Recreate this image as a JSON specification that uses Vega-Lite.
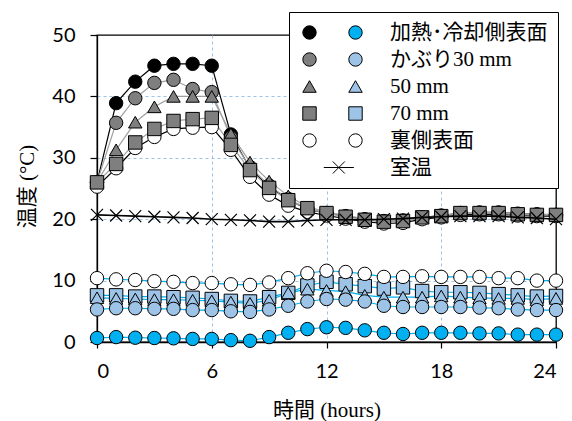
{
  "$schema": "https://vega.github.io/schema/vega-lite/v6.json",
  "autosize": {"type": "none"},
  "width": 459,
  "height": 307,
  "padding": {"left": 97, "top": 35, "right": 16, "bottom": 79},
  "background": "white",
  "config": {
    "view": {"stroke": "black", "strokeWidth": 1.3},
    "axis": {
      "domainColor": "black",
      "domainWidth": 1.3,
      "tickColor": "black",
      "tickWidth": 1.2,
      "labelFont": "Lato",
      "labelFontSize": 20,
      "labelColor": "black",
      "titleFont": "Liberation Serif, Noto Sans CJK JP",
      "titleFontSize": 21,
      "titleFontWeight": "normal",
      "titleColor": "black",
      "gridColor": "#9DC3E6",
      "gridDash": [3, 3],
      "gridWidth": 1
    }
  },
  "data": {
    "values": [
      {"h":0,"s":"heat","n":"加熱･冷却側表面","t":26.0},{"h":1,"s":"heat","n":"加熱･冷却側表面","t":38.9},{"h":2,"s":"heat","n":"加熱･冷却側表面","t":42.4},{"h":3,"s":"heat","n":"加熱･冷却側表面","t":45.0},{"h":4,"s":"heat","n":"加熱･冷却側表面","t":45.3},{"h":5,"s":"heat","n":"加熱･冷却側表面","t":45.3},{"h":6,"s":"heat","n":"加熱･冷却側表面","t":45.0},{"h":7,"s":"heat","n":"加熱･冷却側表面","t":33.8},{"h":8,"s":"heat","n":"加熱･冷却側表面","t":28.3},{"h":9,"s":"heat","n":"加熱･冷却側表面","t":25.3},{"h":10,"s":"heat","n":"加熱･冷却側表面","t":23.2},{"h":11,"s":"heat","n":"加熱･冷却側表面","t":21.6},{"h":12,"s":"heat","n":"加熱･冷却側表面","t":21.0},{"h":13,"s":"heat","n":"加熱･冷却側表面","t":20.5},{"h":14,"s":"heat","n":"加熱･冷却側表面","t":20.0},{"h":15,"s":"heat","n":"加熱･冷却側表面","t":19.7},{"h":16,"s":"heat","n":"加熱･冷却側表面","t":19.8},{"h":17,"s":"heat","n":"加熱･冷却側表面","t":20.3},{"h":18,"s":"heat","n":"加熱･冷却側表面","t":20.6},{"h":19,"s":"heat","n":"加熱･冷却側表面","t":21.0},{"h":20,"s":"heat","n":"加熱･冷却側表面","t":21.1},{"h":21,"s":"heat","n":"加熱･冷却側表面","t":21.1},{"h":22,"s":"heat","n":"加熱･冷却側表面","t":20.9},{"h":23,"s":"heat","n":"加熱･冷却側表面","t":20.8},{"h":24,"s":"heat","n":"加熱･冷却側表面","t":20.7},
      {"h":0,"s":"heat","n":"かぶり30 mm","t":26.0},{"h":1,"s":"heat","n":"かぶり30 mm","t":35.7},{"h":2,"s":"heat","n":"かぶり30 mm","t":39.7},{"h":3,"s":"heat","n":"かぶり30 mm","t":42.2},{"h":4,"s":"heat","n":"かぶり30 mm","t":42.7},{"h":5,"s":"heat","n":"かぶり30 mm","t":41.2},{"h":6,"s":"heat","n":"かぶり30 mm","t":40.7},{"h":7,"s":"heat","n":"かぶり30 mm","t":33.3},{"h":8,"s":"heat","n":"かぶり30 mm","t":28.5},{"h":9,"s":"heat","n":"かぶり30 mm","t":25.5},{"h":10,"s":"heat","n":"かぶり30 mm","t":23.3},{"h":11,"s":"heat","n":"かぶり30 mm","t":21.7},{"h":12,"s":"heat","n":"かぶり30 mm","t":21.0},{"h":13,"s":"heat","n":"かぶり30 mm","t":20.4},{"h":14,"s":"heat","n":"かぶり30 mm","t":19.9},{"h":15,"s":"heat","n":"かぶり30 mm","t":19.6},{"h":16,"s":"heat","n":"かぶり30 mm","t":19.7},{"h":17,"s":"heat","n":"かぶり30 mm","t":20.3},{"h":18,"s":"heat","n":"かぶり30 mm","t":20.5},{"h":19,"s":"heat","n":"かぶり30 mm","t":21.0},{"h":20,"s":"heat","n":"かぶり30 mm","t":21.0},{"h":21,"s":"heat","n":"かぶり30 mm","t":21.0},{"h":22,"s":"heat","n":"かぶり30 mm","t":20.8},{"h":23,"s":"heat","n":"かぶり30 mm","t":20.7},{"h":24,"s":"heat","n":"かぶり30 mm","t":20.7},
      {"h":0,"s":"heat","n":"裏側表面","t":25.3},{"h":1,"s":"heat","n":"裏側表面","t":28.3},{"h":2,"s":"heat","n":"裏側表面","t":31.6},{"h":3,"s":"heat","n":"裏側表面","t":33.4},{"h":4,"s":"heat","n":"裏側表面","t":34.7},{"h":5,"s":"heat","n":"裏側表面","t":34.9},{"h":6,"s":"heat","n":"裏側表面","t":35.0},{"h":7,"s":"heat","n":"裏側表面","t":31.3},{"h":8,"s":"heat","n":"裏側表面","t":26.9},{"h":9,"s":"heat","n":"裏側表面","t":24.0},{"h":10,"s":"heat","n":"裏側表面","t":22.2},{"h":11,"s":"heat","n":"裏側表面","t":21.2},{"h":12,"s":"heat","n":"裏側表面","t":20.6},{"h":13,"s":"heat","n":"裏側表面","t":20.1},{"h":14,"s":"heat","n":"裏側表面","t":19.6},{"h":15,"s":"heat","n":"裏側表面","t":19.3},{"h":16,"s":"heat","n":"裏側表面","t":19.4},{"h":17,"s":"heat","n":"裏側表面","t":20.0},{"h":18,"s":"heat","n":"裏側表面","t":20.3},{"h":19,"s":"heat","n":"裏側表面","t":20.7},{"h":20,"s":"heat","n":"裏側表面","t":20.8},{"h":21,"s":"heat","n":"裏側表面","t":20.8},{"h":22,"s":"heat","n":"裏側表面","t":20.6},{"h":23,"s":"heat","n":"裏側表面","t":20.5},{"h":24,"s":"heat","n":"裏側表面","t":20.5},
      {"h":0,"s":"heat","n":"50 mm","t":26.0},{"h":1,"s":"heat","n":"50 mm","t":31.3},{"h":2,"s":"heat","n":"50 mm","t":35.8},{"h":3,"s":"heat","n":"50 mm","t":38.3},{"h":4,"s":"heat","n":"50 mm","t":40.0},{"h":5,"s":"heat","n":"50 mm","t":40.0},{"h":6,"s":"heat","n":"50 mm","t":40.0},{"h":7,"s":"heat","n":"50 mm","t":33.9},{"h":8,"s":"heat","n":"50 mm","t":29.3},{"h":9,"s":"heat","n":"50 mm","t":26.2},{"h":10,"s":"heat","n":"50 mm","t":23.8},{"h":11,"s":"heat","n":"50 mm","t":22.0},{"h":12,"s":"heat","n":"50 mm","t":21.2},{"h":13,"s":"heat","n":"50 mm","t":20.6},{"h":14,"s":"heat","n":"50 mm","t":20.1},{"h":15,"s":"heat","n":"50 mm","t":19.8},{"h":16,"s":"heat","n":"50 mm","t":19.8},{"h":17,"s":"heat","n":"50 mm","t":20.3},{"h":18,"s":"heat","n":"50 mm","t":20.6},{"h":19,"s":"heat","n":"50 mm","t":21.0},{"h":20,"s":"heat","n":"50 mm","t":21.1},{"h":21,"s":"heat","n":"50 mm","t":21.1},{"h":22,"s":"heat","n":"50 mm","t":20.9},{"h":23,"s":"heat","n":"50 mm","t":20.8},{"h":24,"s":"heat","n":"50 mm","t":20.8},
      {"h":0,"s":"heat","n":"70 mm","t":26.0},{"h":1,"s":"heat","n":"70 mm","t":29.0},{"h":2,"s":"heat","n":"70 mm","t":32.5},{"h":3,"s":"heat","n":"70 mm","t":34.7},{"h":4,"s":"heat","n":"70 mm","t":36.0},{"h":5,"s":"heat","n":"70 mm","t":36.3},{"h":6,"s":"heat","n":"70 mm","t":36.5},{"h":7,"s":"heat","n":"70 mm","t":32.1},{"h":8,"s":"heat","n":"70 mm","t":28.0},{"h":9,"s":"heat","n":"70 mm","t":25.1},{"h":10,"s":"heat","n":"70 mm","t":23.1},{"h":11,"s":"heat","n":"70 mm","t":21.8},{"h":12,"s":"heat","n":"70 mm","t":21.0},{"h":13,"s":"heat","n":"70 mm","t":20.4},{"h":14,"s":"heat","n":"70 mm","t":19.9},{"h":15,"s":"heat","n":"70 mm","t":19.6},{"h":16,"s":"heat","n":"70 mm","t":19.7},{"h":17,"s":"heat","n":"70 mm","t":20.3},{"h":18,"s":"heat","n":"70 mm","t":20.5},{"h":19,"s":"heat","n":"70 mm","t":21.0},{"h":20,"s":"heat","n":"70 mm","t":21.0},{"h":21,"s":"heat","n":"70 mm","t":21.0},{"h":22,"s":"heat","n":"70 mm","t":20.8},{"h":23,"s":"heat","n":"70 mm","t":20.7},{"h":24,"s":"heat","n":"70 mm","t":20.7},
      {"h":0,"s":"room","n":"室温","t":20.7},{"h":1,"s":"room","n":"室温","t":20.6},{"h":2,"s":"room","n":"室温","t":20.5},{"h":3,"s":"room","n":"室温","t":20.4},{"h":4,"s":"room","n":"室温","t":20.3},{"h":5,"s":"room","n":"室温","t":20.2},{"h":6,"s":"room","n":"室温","t":20.0},{"h":7,"s":"room","n":"室温","t":19.9},{"h":8,"s":"room","n":"室温","t":19.8},{"h":9,"s":"room","n":"室温","t":19.6},{"h":10,"s":"room","n":"室温","t":19.6},{"h":11,"s":"room","n":"室温","t":19.8},{"h":12,"s":"room","n":"室温","t":19.9},{"h":13,"s":"room","n":"室温","t":19.9},{"h":14,"s":"room","n":"室温","t":19.9},{"h":15,"s":"room","n":"室温","t":20.0},{"h":16,"s":"room","n":"室温","t":20.1},{"h":17,"s":"room","n":"室温","t":20.3},{"h":18,"s":"room","n":"室温","t":20.4},{"h":19,"s":"room","n":"室温","t":20.5},{"h":20,"s":"room","n":"室温","t":20.5},{"h":21,"s":"room","n":"室温","t":20.5},{"h":22,"s":"room","n":"室温","t":20.3},{"h":23,"s":"room","n":"室温","t":20.2},{"h":24,"s":"room","n":"室温","t":20.0},
      {"h":0,"s":"cool","n":"70 mm","t":7.6},{"h":1,"s":"cool","n":"70 mm","t":7.6},{"h":2,"s":"cool","n":"70 mm","t":7.4},{"h":3,"s":"cool","n":"70 mm","t":7.4},{"h":4,"s":"cool","n":"70 mm","t":7.3},{"h":5,"s":"cool","n":"70 mm","t":7.2},{"h":6,"s":"cool","n":"70 mm","t":7.0},{"h":7,"s":"cool","n":"70 mm","t":6.7},{"h":8,"s":"cool","n":"70 mm","t":6.6},{"h":9,"s":"cool","n":"70 mm","t":7.3},{"h":10,"s":"cool","n":"70 mm","t":8.0},{"h":11,"s":"cool","n":"70 mm","t":9.2},{"h":12,"s":"cool","n":"70 mm","t":9.8},{"h":13,"s":"cool","n":"70 mm","t":9.4},{"h":14,"s":"cool","n":"70 mm","t":9.1},{"h":15,"s":"cool","n":"70 mm","t":8.7},{"h":16,"s":"cool","n":"70 mm","t":8.9},{"h":17,"s":"cool","n":"70 mm","t":8.3},{"h":18,"s":"cool","n":"70 mm","t":8.1},{"h":19,"s":"cool","n":"70 mm","t":8.1},{"h":20,"s":"cool","n":"70 mm","t":8.0},{"h":21,"s":"cool","n":"70 mm","t":7.8},{"h":22,"s":"cool","n":"70 mm","t":7.6},{"h":23,"s":"cool","n":"70 mm","t":7.4},{"h":24,"s":"cool","n":"70 mm","t":7.5},
      {"h":0,"s":"cool","n":"50 mm","t":7.2},{"h":1,"s":"cool","n":"50 mm","t":7.1},{"h":2,"s":"cool","n":"50 mm","t":7.0},{"h":3,"s":"cool","n":"50 mm","t":6.9},{"h":4,"s":"cool","n":"50 mm","t":6.9},{"h":5,"s":"cool","n":"50 mm","t":6.8},{"h":6,"s":"cool","n":"50 mm","t":6.7},{"h":7,"s":"cool","n":"50 mm","t":6.5},{"h":8,"s":"cool","n":"50 mm","t":6.3},{"h":9,"s":"cool","n":"50 mm","t":6.8},{"h":10,"s":"cool","n":"50 mm","t":8.0},{"h":11,"s":"cool","n":"50 mm","t":8.6},{"h":12,"s":"cool","n":"50 mm","t":8.4},{"h":13,"s":"cool","n":"50 mm","t":8.2},{"h":14,"s":"cool","n":"50 mm","t":7.6},{"h":15,"s":"cool","n":"50 mm","t":7.3},{"h":16,"s":"cool","n":"50 mm","t":7.3},{"h":17,"s":"cool","n":"50 mm","t":7.3},{"h":18,"s":"cool","n":"50 mm","t":7.5},{"h":19,"s":"cool","n":"50 mm","t":7.3},{"h":20,"s":"cool","n":"50 mm","t":7.2},{"h":21,"s":"cool","n":"50 mm","t":7.1},{"h":22,"s":"cool","n":"50 mm","t":7.1},{"h":23,"s":"cool","n":"50 mm","t":6.9},{"h":24,"s":"cool","n":"50 mm","t":7.1},
      {"h":0,"s":"cool","n":"かぶり30 mm","t":5.3},{"h":1,"s":"cool","n":"かぶり30 mm","t":5.5},{"h":2,"s":"cool","n":"かぶり30 mm","t":5.5},{"h":3,"s":"cool","n":"かぶり30 mm","t":5.4},{"h":4,"s":"cool","n":"かぶり30 mm","t":5.4},{"h":5,"s":"cool","n":"かぶり30 mm","t":5.2},{"h":6,"s":"cool","n":"かぶり30 mm","t":5.2},{"h":7,"s":"cool","n":"かぶり30 mm","t":5.0},{"h":8,"s":"cool","n":"かぶり30 mm","t":4.9},{"h":9,"s":"cool","n":"かぶり30 mm","t":5.3},{"h":10,"s":"cool","n":"かぶり30 mm","t":5.9},{"h":11,"s":"cool","n":"かぶり30 mm","t":6.6},{"h":12,"s":"cool","n":"かぶり30 mm","t":7.0},{"h":13,"s":"cool","n":"かぶり30 mm","t":6.9},{"h":14,"s":"cool","n":"かぶり30 mm","t":6.6},{"h":15,"s":"cool","n":"かぶり30 mm","t":5.9},{"h":16,"s":"cool","n":"かぶり30 mm","t":5.7},{"h":17,"s":"cool","n":"かぶり30 mm","t":5.7},{"h":18,"s":"cool","n":"かぶり30 mm","t":5.7},{"h":19,"s":"cool","n":"かぶり30 mm","t":5.7},{"h":20,"s":"cool","n":"かぶり30 mm","t":5.6},{"h":21,"s":"cool","n":"かぶり30 mm","t":5.5},{"h":22,"s":"cool","n":"かぶり30 mm","t":5.3},{"h":23,"s":"cool","n":"かぶり30 mm","t":5.2},{"h":24,"s":"cool","n":"かぶり30 mm","t":5.2},
      {"h":0,"s":"cool","n":"裏側表面","t":10.4},{"h":1,"s":"cool","n":"裏側表面","t":10.2},{"h":2,"s":"cool","n":"裏側表面","t":10.1},{"h":3,"s":"cool","n":"裏側表面","t":9.9},{"h":4,"s":"cool","n":"裏側表面","t":9.8},{"h":5,"s":"cool","n":"裏側表面","t":9.6},{"h":6,"s":"cool","n":"裏側表面","t":9.6},{"h":7,"s":"cool","n":"裏側表面","t":9.4},{"h":8,"s":"cool","n":"裏側表面","t":9.3},{"h":9,"s":"cool","n":"裏側表面","t":9.7},{"h":10,"s":"cool","n":"裏側表面","t":10.4},{"h":11,"s":"cool","n":"裏側表面","t":11.2},{"h":12,"s":"cool","n":"裏側表面","t":11.6},{"h":13,"s":"cool","n":"裏側表面","t":11.4},{"h":14,"s":"cool","n":"裏側表面","t":11.1},{"h":15,"s":"cool","n":"裏側表面","t":10.6},{"h":16,"s":"cool","n":"裏側表面","t":10.6},{"h":17,"s":"cool","n":"裏側表面","t":10.7},{"h":18,"s":"cool","n":"裏側表面","t":10.6},{"h":19,"s":"cool","n":"裏側表面","t":10.6},{"h":20,"s":"cool","n":"裏側表面","t":10.6},{"h":21,"s":"cool","n":"裏側表面","t":10.4},{"h":22,"s":"cool","n":"裏側表面","t":10.4},{"h":23,"s":"cool","n":"裏側表面","t":10.0},{"h":24,"s":"cool","n":"裏側表面","t":10.0},
      {"h":0,"s":"cool","n":"加熱･冷却側表面","t":0.65},{"h":1,"s":"cool","n":"加熱･冷却側表面","t":0.8},{"h":2,"s":"cool","n":"加熱･冷却側表面","t":0.7},{"h":3,"s":"cool","n":"加熱･冷却側表面","t":0.65},{"h":4,"s":"cool","n":"加熱･冷却側表面","t":0.6},{"h":5,"s":"cool","n":"加熱･冷却側表面","t":0.5},{"h":6,"s":"cool","n":"加熱･冷却側表面","t":0.5},{"h":7,"s":"cool","n":"加熱･冷却側表面","t":0.3},{"h":8,"s":"cool","n":"加熱･冷却側表面","t":0.2},{"h":9,"s":"cool","n":"加熱･冷却側表面","t":0.8},{"h":10,"s":"cool","n":"加熱･冷却側表面","t":1.5},{"h":11,"s":"cool","n":"加熱･冷却側表面","t":2.1},{"h":12,"s":"cool","n":"加熱･冷却側表面","t":2.4},{"h":13,"s":"cool","n":"加熱･冷却側表面","t":2.3},{"h":14,"s":"cool","n":"加熱･冷却側表面","t":1.9},{"h":15,"s":"cool","n":"加熱･冷却側表面","t":1.5},{"h":16,"s":"cool","n":"加熱･冷却側表面","t":1.3},{"h":17,"s":"cool","n":"加熱･冷却側表面","t":1.5},{"h":18,"s":"cool","n":"加熱･冷却側表面","t":1.5},{"h":19,"s":"cool","n":"加熱･冷却側表面","t":1.5},{"h":20,"s":"cool","n":"加熱･冷却側表面","t":1.4},{"h":21,"s":"cool","n":"加熱･冷却側表面","t":1.4},{"h":22,"s":"cool","n":"加熱･冷却側表面","t":1.2},{"h":23,"s":"cool","n":"加熱･冷却側表面","t":1.2},{"h":24,"s":"cool","n":"加熱･冷却側表面","t":1.2}
    ]
  },
  "encoding": {
    "x": {
      "field": "h",
      "type": "quantitative",
      "scale": {"domain": [0, 24], "nice": false},
      "axis": {
        "values": [0, 6, 12, 18, 24],
        "title": "時間 (hours)",
        "tickSize": 6,
        "labelPadding": 13,
        "titleY": 68,
        "titleBaseline": "middle",
        "grid": true,
        "gridOpacity": {"condition": {"test": "datum.value == 0 || datum.value == 24", "value": 0}, "value": 1}
      }
    },
    "y": {
      "field": "t",
      "type": "quantitative",
      "scale": {"domain": [0, 50], "nice": false, "zero": false},
      "axis": {
        "values": [0, 10, 20, 30, 40, 50],
        "title": "温度 (°C)",
        "tickSize": 7,
        "labelPadding": 15,
        "titleX": -70,
        "titleY": 151,
        "titleBaseline": "middle",
        "grid": true,
        "gridOpacity": {"condition": {"test": "datum.value == 0 || datum.value == 50", "value": 0}, "value": 1}
      }
    }
  },
  "layer": [
    {
      "transform": [{"filter": "datum.s == 'heat'"}],
      "mark": {"type": "line", "strokeWidth": 1.2},
      "encoding": {
        "detail": {"field": "n"},
        "stroke": {
          "field": "n",
          "type": "nominal",
          "scale": {
            "domain": ["加熱･冷却側表面", "かぶり30 mm", "50 mm", "70 mm", "裏側表面"],
            "range": ["#000000", "#A0A0A0", "#A0A0A0", "#A0A0A0", "#000000"]
          },
          "legend": null
        }
      }
    },
    {
      "transform": [{"filter": "datum.s == 'cool'"}],
      "mark": {"type": "line", "strokeWidth": 1.2, "stroke": "#00B0F0"},
      "encoding": {"detail": {"field": "n"}}
    },
    {
      "transform": [{"filter": "datum.s == 'cool'"}],
      "mark": {"type": "point", "filled": true, "stroke": "black", "strokeWidth": 1, "size": 180, "opacity": 1},
      "encoding": {
        "fill": {
          "field": "n",
          "type": "nominal",
          "scale": {
            "domain": ["加熱･冷却側表面", "かぶり30 mm", "50 mm", "70 mm", "裏側表面"],
            "range": ["#00B0F0", "#9DC3E6", "#9DC3E6", "#9DC3E6", "#FFFFFF"]
          },
          "legend": {
            "orient": "none", "legendX": 238, "legendY": -23, "title": null,
            "padding": 10, "rowPadding": 5, "labelOffset": 0,
            "labelExpr": "''",
            "labelFont": "Liberation Serif, Noto Sans CJK JP", "labelFontSize": 21,
            "symbolStrokeColor": "black", "symbolStrokeWidth": 1, "symbolSize": 180, "symbolOpacity": 1,
            "zindex": 2
          }
        },
        "shape": {
          "field": "n",
          "type": "nominal",
          "scale": {
            "domain": ["加熱･冷却側表面", "かぶり30 mm", "50 mm", "70 mm", "裏側表面"],
            "range": ["circle", "circle", "triangle-up", "square", "circle"]
          }
        }
      }
    },
    {
      "transform": [{"filter": "datum.s == 'heat'"}],
      "mark": {"type": "point", "filled": true, "stroke": "black", "strokeWidth": 1, "size": 180, "opacity": 1},
      "encoding": {
        "fill": {
          "field": "n",
          "type": "nominal",
          "scale": {
            "domain": ["加熱･冷却側表面", "かぶり30 mm", "50 mm", "70 mm", "裏側表面", "室温"],
            "range": ["#000000", "#7F7F7F", "#7F7F7F", "#7F7F7F", "#FFFFFF", "transparent"]
          },
          "legend": {
            "orient": "none", "legendX": 192, "legendY": -23, "title": null,
            "padding": 10, "rowPadding": 5, "labelOffset": 70, "labelLimit": 400,
            "labelFont": "Liberation Serif, Noto Sans CJK JP", "labelFontSize": 21, "labelColor": "black",
            "strokeColor": "black", "fillColor": "white", "cornerRadius": 0,
            "symbolStrokeColor": "black", "symbolStrokeWidth": 1, "symbolSize": 180, "symbolOpacity": 1,
            "zindex": 1
          }
        },
        "shape": {
          "field": "n",
          "type": "nominal",
          "scale": {
            "domain": ["加熱･冷却側表面", "かぶり30 mm", "50 mm", "70 mm", "裏側表面", "室温"],
            "range": ["circle", "circle", "triangle-up", "square", "circle", "M3.47,-0.9L5.27,0.9M5.27,-0.9L3.47,0.9M2.13,0H6.61"]
          }
        }
      }
    },
    {
      "transform": [{"filter": "datum.s == 'room'"}],
      "mark": {"type": "line", "strokeWidth": 1.6, "stroke": "black"},
      "encoding": {}
    },
    {
      "transform": [{"filter": "datum.s == 'room'"}],
      "mark": {"type": "point", "shape": "M-1,-1L1,1M1,-1L-1,1", "filled": false, "stroke": "black", "strokeWidth": 1.2, "size": 144, "opacity": 1},
      "encoding": {}
    }
  ],
  "resolve": {"scale": {"fill": "independent", "shape": "independent"}}
}
